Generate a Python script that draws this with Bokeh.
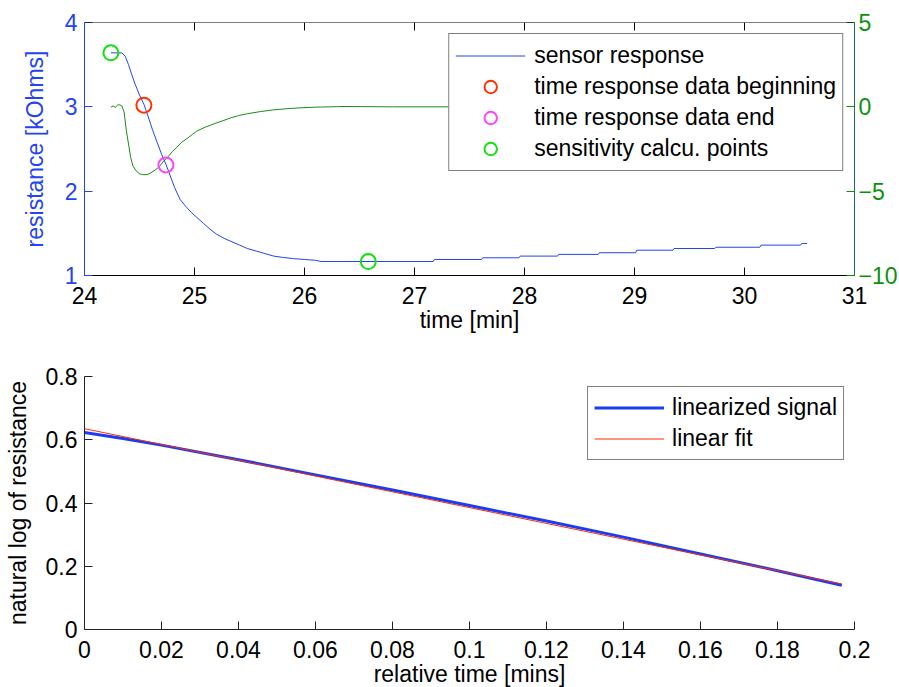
import math
from bokeh.plotting import figure
from bokeh.models import (Range1d, LinearAxis, FixedTicker, CustomJSTickFormatter,
                          Legend, LegendItem, Span)
from bokeh.layouts import column
from bokeh.embed import file_html
from bokeh.resources import INLINE

# ---------------- data ----------------
sensor_time = [24.24, 24.30, 24.34, 24.37, 24.40, 24.43, 24.46, 24.50, 24.54, 24.58,
               24.62, 24.66, 24.70, 24.74, 24.78, 24.82, 24.87, 24.92, 24.97, 25.02,
               25.08, 25.14, 25.20, 25.27, 25.34, 25.41, 25.48, 25.56, 25.64, 25.72,
               25.80, 25.90, 26.00, 26.10, 26.15, 27.17, 27.18, 27.61, 27.62, 27.95,
               27.96, 28.30, 28.31, 28.67, 28.68, 29.01, 29.02, 29.35, 29.36, 29.73,
               29.74, 30.14, 30.15, 30.51, 30.52, 30.57]
sensor_resistance = [3.64, 3.64, 3.64, 3.60, 3.50, 3.38, 3.27, 3.14, 3.03, 2.88,
                     2.72, 2.58, 2.44, 2.32, 2.18, 2.04, 1.90, 1.82, 1.75, 1.69,
                     1.62, 1.55, 1.49, 1.44, 1.40, 1.36, 1.32, 1.29, 1.26, 1.23,
                     1.215, 1.20, 1.19, 1.18, 1.166, 1.166, 1.19, 1.19, 1.21, 1.21,
                     1.23, 1.23, 1.25, 1.25, 1.27, 1.27, 1.30, 1.30, 1.32, 1.32,
                     1.335, 1.335, 1.36, 1.36, 1.38, 1.38]

deriv_time = [24.24, 24.26, 24.28, 24.30, 24.32, 24.34, 24.36, 24.38, 24.40, 24.42,
              24.44, 24.47, 24.50, 24.53, 24.57, 24.60, 24.64, 24.68, 24.72, 24.76,
              24.80, 24.84, 24.88, 24.93, 24.98, 25.02, 25.10, 25.18, 25.26, 25.33,
              25.40, 25.48, 25.60, 25.72, 25.84, 25.96, 26.10, 26.36, 26.80, 30.57]
deriv_value = [-0.02, 0.05, -0.03, 0.10, 0.12, 0.05, -0.30, -1.40, -2.20, -3.00,
               -3.50, -3.80, -3.97, -4.02, -4.02, -3.92, -3.76, -3.55, -3.22, -2.95,
               -2.65, -2.39, -2.12, -1.89, -1.64, -1.44, -1.20, -1.00, -0.82, -0.65,
               -0.52, -0.41, -0.28, -0.18, -0.11, -0.06, -0.02, 0.02, 0.0, 0.0]

begin_time = [24.54]
begin_res = [3.02]
end_time = [24.74]
end_res = [2.31]
sens_time = [24.24, 26.58]
sens_res = [3.64, 1.165]

rel_time = [0.0, 0.01, 0.02, 0.04, 0.06, 0.08, 0.10, 0.12, 0.14, 0.16, 0.18, 0.1967]
lin_signal = [0.623, 0.604, 0.583, 0.537, 0.489, 0.441, 0.392, 0.343, 0.292, 0.239, 0.186, 0.140]
fit_time = [0.0, 0.1967]
fit_value = [0.635, 0.144]

top_x_ticks = [24, 25, 26, 27, 28, 29, 30, 31]
top_left_ticks = [1, 2, 3, 4]
top_right_ticks = [-10, -5, 0, 5]
bot_x_ticks = [0, 0.02, 0.04, 0.06, 0.08, 0.1, 0.12, 0.14, 0.16, 0.18, 0.2]
bot_y_ticks = [0, 0.2, 0.4, 0.6, 0.8]

# ---------------- style ----------------
FONT = "Liberation Sans"
FS = "23px"
BLUE = "#2444f2"
GREEN_LINE = "#1a8a1a"
GREEN_TXT = "#0a930a"
RIGHT_AX = "#1a6e64"

def fmt():
    return CustomJSTickFormatter(code="""
        var s = String(Number(tick.toFixed(3)));
        return s.replace('-', '\u2212');
    """)

def style_axis(ax, color="black", label_color=None, tick_color=None, std=7, lstd=4):
    ax.axis_line_color = color
    ax.axis_line_width = 1
    ax.major_tick_line_color = tick_color or color
    ax.major_tick_in = 8
    ax.major_tick_out = 0
    ax.minor_tick_line_color = None
    ax.major_label_text_font = FONT
    ax.major_label_text_font_size = FS
    ax.major_label_text_color = label_color or color
    ax.major_label_standoff = std
    ax.axis_label_text_font = FONT
    ax.axis_label_text_font_size = FS
    ax.axis_label_text_font_style = "normal"
    ax.axis_label_text_color = label_color or color
    ax.axis_label_standoff = lstd

FW, FH = 770, 253
MBL, MBR = 84, 44

# ---------------- top plot ----------------
p1 = figure(frame_width=FW, frame_height=FH, min_border_left=MBL, min_border_right=MBR,
            min_border_top=22, min_border_bottom=0,
            x_range=Range1d(24, 31), y_range=Range1d(1, 4),
            output_backend="svg", toolbar_location=None)
p1.extra_y_ranges = {"right": Range1d(-10, 5)}
p1.grid.visible = False
p1.outline_line_color = None
p1.background_fill_color = "white"

g_line = p1.line(deriv_time, deriv_value, y_range_name="right", color=GREEN_LINE, line_width=1)
b_line = p1.line(sensor_time, sensor_resistance, color=BLUE, line_width=1)
r_beg = p1.scatter(begin_time, begin_res, marker="circle", size=15, fill_color=None,
                   line_color="#ff3300", line_width=2)
r_end = p1.scatter(end_time, end_res, marker="circle", size=15, fill_color=None,
                   line_color="#ff44ff", line_width=2)
r_sens = p1.scatter(sens_time, sens_res, marker="circle", size=15, fill_color=None,
                    line_color="#11e011", line_width=2)

# top box edge with inward ticks
p1.add_layout(Span(location=p1.y_range.end, dimension="width", line_color="black", line_width=1))
p1.ray(x=top_x_ticks, y=[p1.y_range.end] * len(top_x_ticks), length=8,
       length_units="screen", angle=-math.pi / 2, line_color="black", line_width=1)

p1.xaxis.ticker = FixedTicker(ticks=top_x_ticks)
p1.xaxis.formatter = fmt()
p1.xaxis.axis_label = "time [min]"
style_axis(p1.xaxis[0], std=11, lstd=0)

p1.yaxis.ticker = FixedTicker(ticks=top_left_ticks)
p1.yaxis.formatter = fmt()
p1.yaxis.axis_label = "resistance [kOhms]"
style_axis(p1.yaxis[0], color=BLUE, std=7, lstd=14)

ra = LinearAxis(y_range_name="right", ticker=FixedTicker(ticks=top_right_ticks), formatter=fmt())
style_axis(ra, color=RIGHT_AX, label_color=GREEN_TXT, tick_color=GREEN_TXT, std=4)
p1.add_layout(ra, "right")

leg1 = Legend(items=[LegendItem(label="sensor response", renderers=[b_line]),
                     LegendItem(label="time response data beginning", renderers=[r_beg]),
                     LegendItem(label="time response data end", renderers=[r_end]),
                     LegendItem(label="sensitivity calcu. points", renderers=[r_sens])],
              location="top_right")
leg1.margin = 11
leg1.padding = 6
leg1.spacing = 0
leg1.glyph_width = 70
leg1.glyph_height = 31
leg1.label_height = 31
leg1.label_standoff = 9
leg1.label_text_font = FONT
leg1.label_text_font_size = FS
leg1.label_text_color = "black"
leg1.border_line_color = "black"
leg1.border_line_width = 1
leg1.background_fill_alpha = 1
p1.add_layout(leg1)

# ---------------- bottom plot ----------------
p2 = figure(frame_width=FW, frame_height=FH, min_border_left=MBL, min_border_right=MBR,
            min_border_top=41, min_border_bottom=0,
            x_range=Range1d(0, 0.2), y_range=Range1d(0, 0.8),
            output_backend="svg", toolbar_location=None)
p2.grid.visible = False
p2.outline_line_color = None

l_sig = p2.line(rel_time, lin_signal, color="#1a3cf5", line_width=3)
l_fit = p2.line(fit_time, fit_value, color="#ff2a00", line_width=1)

p2.xaxis.ticker = FixedTicker(ticks=bot_x_ticks)
p2.xaxis.formatter = fmt()
p2.xaxis.axis_label = "relative time [mins]"
style_axis(p2.xaxis[0], color="#222222", label_color="black", std=11, lstd=0)

p2.yaxis.ticker = FixedTicker(ticks=bot_y_ticks)
p2.yaxis.formatter = fmt()
p2.yaxis.axis_label = "natural log of resistance"
style_axis(p2.yaxis[0], color="#222222", label_color="black", std=7, lstd=12)

leg2 = Legend(items=[LegendItem(label="linearized signal", renderers=[l_sig]),
                     LegendItem(label="linear fit", renderers=[l_fit])],
              location="top_right")
leg2.margin = 10
leg2.padding = 6
leg2.spacing = 2
leg2.glyph_width = 70
leg2.glyph_height = 29
leg2.label_height = 29
leg2.label_standoff = 8
leg2.label_text_font = FONT
leg2.label_text_font_size = FS
leg2.label_text_color = "black"
leg2.border_line_color = "black"
leg2.border_line_width = 1
leg2.background_fill_alpha = 1
p2.add_layout(leg2)

layout = column(p1, p2, spacing=0)
open("out.html", "w").write(file_html(layout, INLINE))
